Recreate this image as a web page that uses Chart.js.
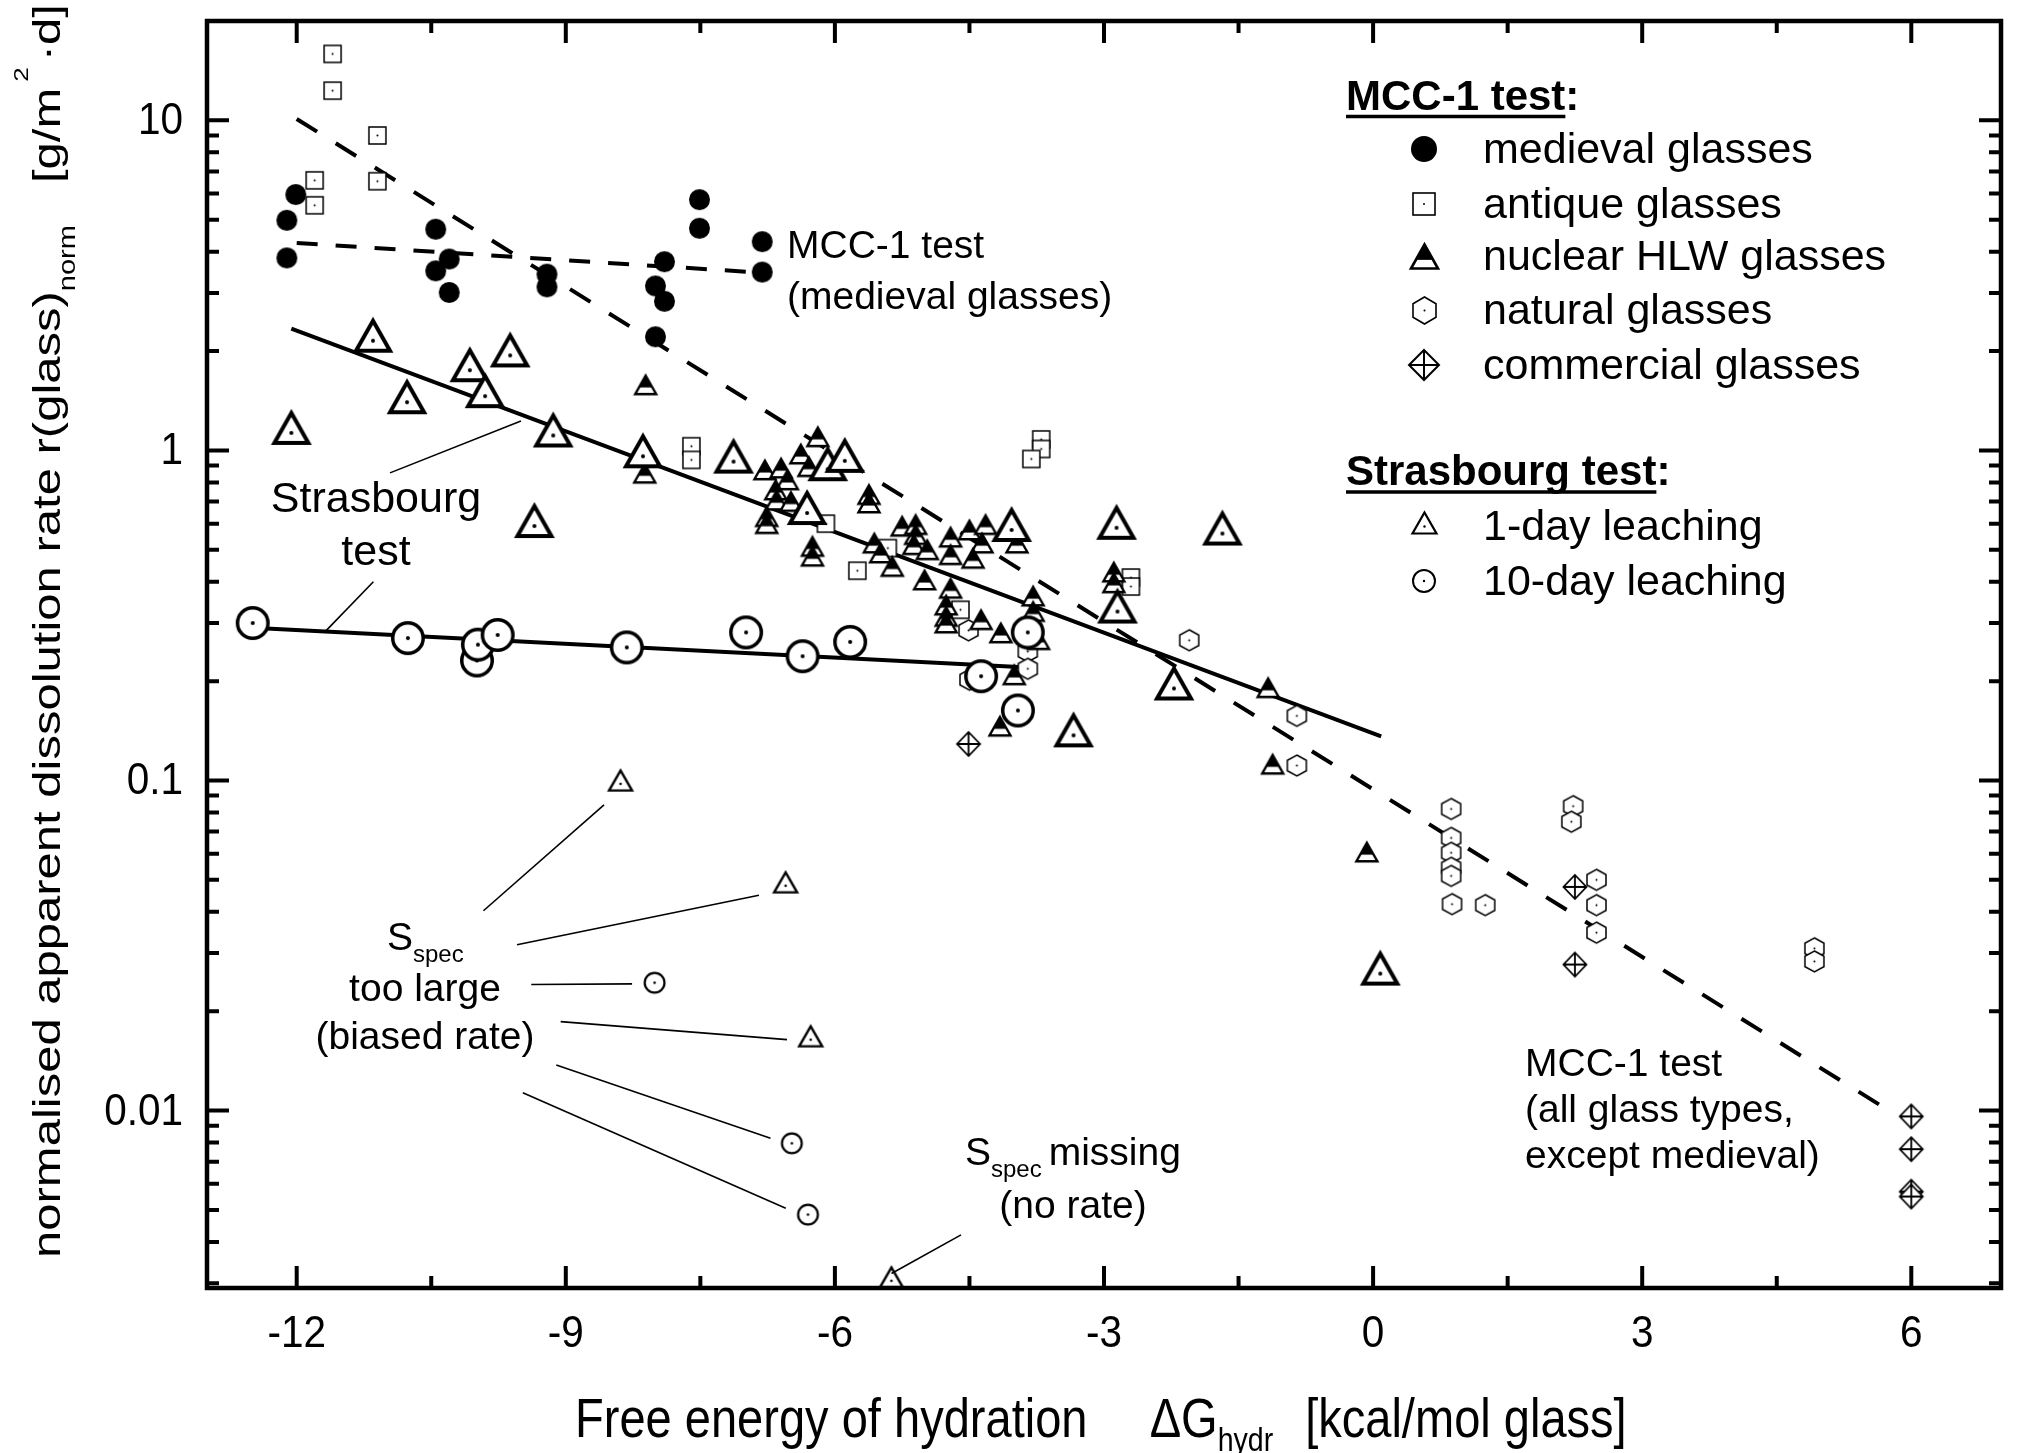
<!DOCTYPE html>
<html>
<head>
<meta charset="utf-8">
<title>Dissolution rate vs. free energy of hydration</title>
<script src="https://cdn.jsdelivr.net/npm/chart.js@4.4.1/dist/chart.umd.min.js"></script>
<style>
  html, body { margin: 0; padding: 0; background: #fff; }
  #wrap { width: 2017px; height: 1453px; }
</style>
</head>
<body>
<div id="wrap"><canvas id="chart" width="2017" height="1453"></canvas></div>
<script>
(function(){
  'use strict';

  // ---- axes ----
  var xMin = -13, xMax = 7;
  var yMin = 0.0029, yMax = 20;
  var xMajor = [-12, -9, -6, -3, 0, 3, 6];
  var xMajorLabels = ['-12', '-9', '-6', '-3', '0', '3', '6'];
  var xMinor = [-10.5, -7.5, -4.5, -1.5, 1.5, 4.5];
  var yMajor = [0.01, 0.1, 1, 10];
  var yMajorLabels = ['0.01', '0.1', '1', '10'];
  var yMinor = [0.003, 0.004, 0.005, 0.006, 0.007, 0.008, 0.009,
                0.02, 0.03, 0.04, 0.05, 0.06, 0.07, 0.08, 0.09,
                0.2, 0.3, 0.4, 0.5, 0.6, 0.7, 0.8, 0.9,
                2, 3, 4, 5, 6, 7, 8, 9];

  // ---- MCC-1 test ----
  var medievalX = [-12.01, -12.11, -12.11, -10.45, -10.30, -10.45, -10.30, -9.21, -9.21, -7.51, -7.51, -7.90, -8.00, -7.90, -8.00, -6.81, -6.81];
  var medievalY = [5.96, 4.98, 3.83, 4.68, 3.80, 3.50, 3.01, 3.42, 3.13, 5.75, 4.71, 3.73, 3.15, 2.83, 2.21, 4.29, 3.47];

  var antiqueX = [-11.60, -11.60, -11.10, -11.10, -11.80, -11.80, -7.60, -7.60, -6.10, -5.75, -5.41, -4.60, -3.70, -3.70, -3.81, -2.70, -2.70];
  var antiqueY = [15.9, 12.3, 9.0, 6.54, 6.58, 5.53, 1.03, 0.936, 0.60, 0.432, 0.506, 0.329, 1.08, 1.01, 0.942, 0.412, 0.387];

  var hlwX = [-8.11, -8.12, -6.78, -6.19, -6.38, -6.60, -6.53, -6.29, -6.66, -6.65, -6.49, -6.76, -6.76, -6.25, -6.25,
              -5.62, -5.62, -5.25, -5.10, -5.10, -5.12, -4.97, -5.56, -5.49, -5.36, -4.71, -4.71, -4.50, -4.32, -4.36,
              -4.46, -3.97, -5.00, -4.71, -4.76, -4.76, -4.76, -4.37, -4.15, -3.79, -3.79, -3.73, -4.00, -4.16, -2.89,
              -2.89, -1.17, -1.12, -0.07];
  var hlwY = [1.58, 0.853, 0.873, 1.10, 0.975, 0.884, 0.814, 0.893, 0.759, 0.707, 0.70, 0.63, 0.60, 0.512, 0.478,
              0.735, 0.693, 0.589, 0.596, 0.556, 0.518, 0.50, 0.524, 0.489, 0.445, 0.546, 0.483, 0.574, 0.596, 0.524,
              0.471, 0.524, 0.405, 0.382, 0.34, 0.314, 0.30, 0.307, 0.280, 0.362, 0.325, 0.267, 0.209, 0.146, 0.428,
              0.397, 0.191, 0.112, 0.0607];

  var naturalX = [-4.51, -3.85, -3.85, -4.50, -2.05, -0.85, -0.85, 0.87, 0.87, 0.87, 0.87, 0.87, 0.88, 1.25, 2.23, 2.21, 2.49, 2.49, 2.49, 4.92, 4.92];
  var naturalY = [0.285, 0.246, 0.218, 0.202, 0.266, 0.157, 0.111, 0.082, 0.067, 0.0604, 0.0544, 0.0514, 0.0422, 0.0419, 0.0836, 0.075, 0.050, 0.0419, 0.0346, 0.031, 0.0283];

  var commercialX = [-4.51, 2.25, 2.25, 6.0, 6.0, 6.0, 6.0];
  var commercialY = [0.129, 0.0476, 0.0277, 0.0096, 0.00764, 0.00568, 0.00549];

  // ---- Strasbourg test ----
  var oneDayX = [-12.06, -11.15, -10.77, -10.07, -9.90, -9.62, -9.35, -9.14, -8.14, -7.13, -6.31, -6.08, -5.89, -4.03, -3.34, -2.86, -2.85, -2.22, -1.68, 0.08];
  var oneDayY = [1.13, 2.15, 1.40, 1.75, 1.46, 1.94, 0.59, 1.11, 0.96, 0.925, 0.646, 0.877, 0.93, 0.574, 0.137, 0.583, 0.325, 0.190, 0.56, 0.026];
  var oneDayBiasedX = [-8.39, -6.55, -6.27, -5.37];
  var oneDayBiasedY = [0.0977, 0.048, 0.0164, 0.00305];

  var tenDayX = [-12.49, -10.76, -9.99, -9.98, -9.76, -8.32, -6.99, -6.36, -5.83, -4.37, -3.85, -3.96];
  var tenDayY = [0.300, 0.270, 0.231, 0.258, 0.276, 0.253, 0.281, 0.238, 0.263, 0.207, 0.281, 0.163];
  var tenDayBiasedX = [-8.01, -6.48, -6.30];
  var tenDayBiasedY = [0.0244, 0.00796, 0.00484];

  // ---- fitted trend lines (end points) ----
  var mccAllLineX = [-12.0, 5.75], mccAllLineY = [10.1, 0.0100];
  var mccMedLineX = [-12.0, -6.78], mccMedLineY = [4.25, 3.45];
  var oneDayLineX = [-12.06, 0.09], oneDayLineY = [2.34, 0.136];
  var tenDayLineX = [-12.5, -3.84], tenDayLineY = [0.290, 0.220];

  // ---- annotation leader lines, data coords [x1, y1, x2, y2] ----
  var leaders = [
    [-10.96, 0.855, -9.50, 1.228],
    [-11.145, 0.400, -11.68, 0.283],
    [-9.918, 0.0403, -8.574, 0.0844],
    [-9.544, 0.0318, -6.847, 0.0449],
    [-9.385, 0.0241, -8.261, 0.0242],
    [-9.057, 0.0186, -6.534, 0.0164],
    [-9.106, 0.01374, -6.718, 0.00824],
    [-9.479, 0.01132, -6.548, 0.00506],
    [-4.594, 0.0042, -5.369, 0.00321]
  ];

  var FONT = '"Liberation Sans", Arial, Helvetica, sans-serif';

  function pts(xs, ys){ return xs.map(function(x, i){ return {x: x, y: ys[i]}; }); }

  // ---- marker glyphs ----
  function canvasOf(w, h){ var c = document.createElement('canvas'); c.width = w; c.height = h; return c; }
  function dot(g, x, y, r){ g.beginPath(); g.arc(x, y, r, 0, Math.PI * 2); g.fillStyle = '#000'; g.fill(); }

  function markDisc(d){
    var s = Math.ceil(d + 4), c = canvasOf(s, s), g = c.getContext('2d');
    g.beginPath(); g.arc(s / 2, s / 2, d / 2, 0, Math.PI * 2); g.fillStyle = '#000'; g.fill();
    return c;
  }
  function markRing(d, lw, r){
    var s = Math.ceil(d + lw + 4), c = canvasOf(s, s), g = c.getContext('2d');
    g.beginPath(); g.arc(s / 2, s / 2, d / 2 - lw / 2, 0, Math.PI * 2);
    g.fillStyle = '#fff'; g.fill(); g.lineWidth = lw; g.strokeStyle = '#000'; g.stroke();
    dot(g, s / 2, s / 2, r);
    return c;
  }
  // open triangle, dot at centroid = image centre
  function markTri(w, h, lw, r){
    var s = Math.ceil(Math.max(w, 4 * h / 3) + 2 * lw + 8), c = canvasOf(s, s), g = c.getContext('2d');
    var cx = s / 2, cy = s / 2, top = cy - 2 * h / 3, bot = cy + h / 3;
    g.beginPath(); g.moveTo(cx, top); g.lineTo(cx + w / 2, bot); g.lineTo(cx - w / 2, bot); g.closePath();
    g.fillStyle = '#fff'; g.fill(); g.lineWidth = lw; g.strokeStyle = '#000'; g.lineJoin = 'miter'; g.stroke();
    dot(g, cx, cy, r);
    return c;
  }
  // half filled triangle (nuclear HLW glasses)
  function markHlw(w, h, lw){
    var s = Math.ceil(Math.max(w, h) + 2 * lw + 8), c = canvasOf(s, s), g = c.getContext('2d');
    var cx = s / 2, top = s / 2 - h / 2, bot = s / 2 + h / 2;
    g.beginPath(); g.moveTo(cx, top); g.lineTo(cx + w / 2, bot); g.lineTo(cx - w / 2, bot); g.closePath();
    g.fillStyle = '#fff'; g.fill();
    g.save(); g.clip(); g.fillStyle = '#000'; g.fillRect(0, 0, s, top + h * 0.64); g.restore();
    g.lineWidth = lw; g.strokeStyle = '#000'; g.lineJoin = 'miter'; g.stroke();
    return c;
  }
  function markSquare(a, lw){
    var s = Math.ceil(a + lw + 4), c = canvasOf(s, s), g = c.getContext('2d');
    var o = (s - a) / 2;
    g.fillStyle = '#fff'; g.fillRect(o, o, a, a);
    g.lineWidth = lw; g.strokeStyle = '#000'; g.strokeRect(o, o, a, a);
    dot(g, s / 2, s / 2, 1);
    return c;
  }
  function markHex(w, h, lw){
    var s = Math.ceil(Math.max(w, h) + lw + 4), c = canvasOf(s, s), g = c.getContext('2d');
    var cx = s / 2, cy = s / 2;
    g.beginPath();
    g.moveTo(cx, cy - h / 2); g.lineTo(cx + w / 2, cy - h / 4); g.lineTo(cx + w / 2, cy + h / 4);
    g.lineTo(cx, cy + h / 2); g.lineTo(cx - w / 2, cy + h / 4); g.lineTo(cx - w / 2, cy - h / 4); g.closePath();
    g.fillStyle = '#fff'; g.fill(); g.lineWidth = lw; g.strokeStyle = '#000'; g.stroke();
    dot(g, cx, cy, 1);
    return c;
  }
  function markCross(w, h, lw){
    var s = Math.ceil(Math.max(w, h) + lw + 4), c = canvasOf(s, s), g = c.getContext('2d');
    var cx = s / 2, cy = s / 2;
    g.beginPath();
    g.moveTo(cx, cy - h / 2); g.lineTo(cx + w / 2, cy); g.lineTo(cx, cy + h / 2); g.lineTo(cx - w / 2, cy); g.closePath();
    g.fillStyle = '#fff'; g.fill();
    g.moveTo(cx, cy - h / 2); g.lineTo(cx, cy + h / 2);
    g.moveTo(cx - w / 2, cy); g.lineTo(cx + w / 2, cy);
    g.lineWidth = lw; g.strokeStyle = '#000'; g.stroke();
    return c;
  }

  var M = {
    medieval: markDisc(21),
    antique: markSquare(17, 1.5),
    hlw: markHlw(21, 18.5, 2.4),
    natural: markHex(19, 21, 1.5),
    commercial: markCross(23, 24, 1.8),
    oneDay: markTri(34, 30, 4, 2),
    oneDaySmall: markTri(23, 20, 2.4, 1.3),
    tenDay: markRing(34, 3.5, 2),
    tenDaySmall: markRing(22, 2.2, 1.3)
  };
  var L = {
    medieval: markDisc(26),
    antique: markSquare(22, 1.6),
    hlw: markHlw(27, 24, 2.6),
    natural: markHex(23, 27, 1.6),
    commercial: markCross(30, 30, 2),
    oneDay: markTri(24, 21, 2.2, 1.2),
    tenDay: markRing(24, 2, 1.2)
  };

  function scatterSet(label, xs, ys, glyph, order){
    return { label: label, data: pts(xs, ys), pointStyle: glyph, pointRadius: 10, pointHoverRadius: 10,
             showLine: false, order: order, clip: false };
  }
  function lineSet(label, xs, ys, dash, order){
    return { label: label, data: pts(xs, ys), showLine: true, pointRadius: 0, borderColor: '#000',
             borderWidth: 4, borderDash: dash, borderCapStyle: 'butt', order: order, clip: false };
  }

  // ---- text helpers ----
  function drawRun(ctx, segs, x, y, o){
    o = o || {};
    ctx.save();
    ctx.translate(x, y);
    if (o.rot) ctx.rotate(o.rot);
    ctx.scale(o.sx || 1, o.sy || 1);
    ctx.fillStyle = '#000';
    ctx.textBaseline = 'alphabetic';
    ctx.textAlign = 'left';
    var total = 0;
    segs.forEach(function(s){
      if (s.t){ ctx.font = (s.bold ? 'bold ' : '') + s.size + 'px ' + FONT; total += ctx.measureText(s.t).width; }
      else total += s.gap;
    });
    var cx = o.align === 'center' ? -total / 2 : (o.align === 'right' ? -total : 0);
    segs.forEach(function(s){
      if (s.t){
        ctx.font = (s.bold ? 'bold ' : '') + s.size + 'px ' + FONT;
        ctx.fillText(s.t, cx, s.dy || 0);
        cx += ctx.measureText(s.t).width;
      } else cx += s.gap;
    });
    ctx.restore();
    return total * (o.sx || 1);
  }
  function text(ctx, str, x, y, size, align, extra){
    var o = extra || {};
    o.align = align;
    return drawRun(ctx, [{t: str, size: size, bold: o.bold}], x, y, o);
  }
  function place(ctx, glyph, x, y){ ctx.drawImage(glyph, Math.round(x - glyph.width / 2), Math.round(y - glyph.height / 2)); }

  var decor = {
    id: 'decor',
    afterDatasetsDraw: function(chart){
      var ctx = chart.ctx, a = chart.chartArea, xs = chart.scales.x, ys = chart.scales.y;
      ctx.save();
      // leader lines
      ctx.strokeStyle = '#000'; ctx.lineWidth = 1.6;
      leaders.forEach(function(s){
        ctx.beginPath();
        ctx.moveTo(xs.getPixelForValue(s[0]), ys.getPixelForValue(s[1]));
        ctx.lineTo(xs.getPixelForValue(s[2]), ys.getPixelForValue(s[3]));
        ctx.stroke();
      });

      // frame and ticks
      ctx.lineWidth = 4.5; ctx.lineCap = 'butt';
      ctx.strokeRect(a.left, a.top, a.right - a.left, a.bottom - a.top);
      ctx.lineWidth = 4;
      function tickX(v, len){
        var p = xs.getPixelForValue(v);
        ctx.beginPath();
        ctx.moveTo(p, a.bottom); ctx.lineTo(p, a.bottom - len);
        ctx.moveTo(p, a.top); ctx.lineTo(p, a.top + len);
        ctx.stroke();
      }
      function tickY(v, len){
        var p = ys.getPixelForValue(v);
        ctx.beginPath();
        ctx.moveTo(a.left, p); ctx.lineTo(a.left + len, p);
        ctx.moveTo(a.right, p); ctx.lineTo(a.right - len, p);
        ctx.stroke();
      }
      xMajor.forEach(function(v){ tickX(v, 22); });
      xMinor.forEach(function(v){ tickX(v, 12); });
      yMajor.forEach(function(v){ tickY(v, 22); });
      yMinor.forEach(function(v){ tickY(v, 12); });

      // tick labels
      xMajor.forEach(function(v, i){
        text(ctx, xMajorLabels[i], xs.getPixelForValue(v), a.bottom + 59, 45, 'center', {sx: 0.9});
      });
      yMajor.forEach(function(v, i){
        text(ctx, yMajorLabels[i], a.left - 24, ys.getPixelForValue(v) + 14, 45, 'right', {sx: 0.9});
      });

      // axis titles
      drawRun(ctx, [
        {t: 'Free energy of hydration', size: 56},
        {gap: 74},
        {t: '\u0394G', size: 56},
        {t: 'hydr', size: 34, dy: 14},
        {gap: 38},
        {t: '[kcal/mol glass]', size: 56}
      ], a.left + 368, 1437, {sx: 0.84});

      drawRun(ctx, [
        {t: 'normalised apparent dissolution rate r(glass)', size: 49},
        {t: 'norm', size: 29, dy: 18},
        {gap: 42},
        {t: '[g/m', size: 49},
        {gap: 6},
        {t: '2', size: 26, dy: -40},
        {gap: 6},
        {t: '\u00b7d]', size: 49}
      ], 60, 1258, {rot: -Math.PI / 2, sy: 0.81});

      // in-plot annotations
      text(ctx, 'MCC-1 test', 787, 258, 39, 'left');
      text(ctx, '(medieval glasses)', 787, 309, 39, 'left');
      text(ctx, 'Strasbourg', 376, 512, 43, 'center');
      text(ctx, 'test', 376, 565, 43, 'center');
      drawRun(ctx, [{t: 'S', size: 39}, {t: 'spec', size: 24, dy: 12}], 387, 950);
      text(ctx, 'too large', 425, 1001, 39, 'center');
      text(ctx, '(biased rate)', 425, 1049, 39, 'center');
      drawRun(ctx, [{t: 'S', size: 39}, {t: 'spec', size: 24, dy: 12}, {gap: 7}, {t: 'missing', size: 39}], 965, 1165);
      text(ctx, '(no rate)', 1073, 1218, 39, 'center');
      text(ctx, 'MCC-1 test', 1525, 1076, 39, 'left');
      text(ctx, '(all glass types,', 1525, 1122, 39, 'left');
      text(ctx, 'except medieval)', 1525, 1168, 39, 'left');

      // legend
      var hx = 1346, mx = 1424, tx = 1483;
      var w1 = text(ctx, 'MCC-1 test', hx, 110, 42, 'left', {bold: true});
      text(ctx, ':', hx + w1, 110, 42, 'left', {bold: true});
      ctx.lineWidth = 3.5;
      ctx.beginPath(); ctx.moveTo(hx, 116.5); ctx.lineTo(hx + w1, 116.5); ctx.stroke();
      var rows = [
        [L.medieval, 'medieval glasses', 149],
        [L.antique, 'antique glasses', 204],
        [L.hlw, 'nuclear HLW glasses', 256],
        [L.natural, 'natural glasses', 310],
        [L.commercial, 'commercial glasses', 365]
      ];
      rows.forEach(function(r){ place(ctx, r[0], mx, r[2]); text(ctx, r[1], tx, r[2] + 14, 43, 'left'); });
      var w2 = text(ctx, 'Strasbourg test', hx, 485, 42, 'left', {bold: true});
      text(ctx, ':', hx + w2, 485, 42, 'left', {bold: true});
      ctx.beginPath(); ctx.moveTo(hx, 492); ctx.lineTo(hx + w2, 492); ctx.stroke();
      place(ctx, L.oneDay, mx, 526); text(ctx, '1-day leaching', tx, 540, 43, 'left');
      place(ctx, L.tenDay, mx, 581); text(ctx, '10-day leaching', tx, 595, 43, 'left');
      ctx.restore();
    }
  };

  new Chart(document.getElementById('chart').getContext('2d'), {
    type: 'scatter',
    data: {
      datasets: [
        scatterSet('10-day leaching', tenDayX, tenDayY, M.tenDay, 1),
        scatterSet('1-day leaching', oneDayX, oneDayY, M.oneDay, 2),
        scatterSet('10-day leaching (biased)', tenDayBiasedX, tenDayBiasedY, M.tenDaySmall, 3),
        scatterSet('1-day leaching (biased)', oneDayBiasedX, oneDayBiasedY, M.oneDaySmall, 3),
        scatterSet('medieval glasses', medievalX, medievalY, M.medieval, 4),
        scatterSet('nuclear HLW glasses', hlwX, hlwY, M.hlw, 5),
        scatterSet('commercial glasses', commercialX, commercialY, M.commercial, 6),
        scatterSet('antique glasses', antiqueX, antiqueY, M.antique, 7),
        scatterSet('natural glasses', naturalX, naturalY, M.natural, 8),
        lineSet('MCC-1 all glass types', mccAllLineX, mccAllLineY, [24, 22], 9),
        lineSet('MCC-1 medieval', mccMedLineX, mccMedLineY, [21, 18], 10),
        lineSet('Strasbourg 1-day', oneDayLineX, oneDayLineY, [], 11),
        lineSet('Strasbourg 10-day', tenDayLineX, tenDayLineY, [], 12)
      ]
    },
    options: {
      responsive: false,
      animation: false,
      events: [],
      devicePixelRatio: 1,
      layout: { padding: { left: 207, top: 21, right: 16, bottom: 165 } },
      plugins: { legend: { display: false }, tooltip: { enabled: false } },
      scales: {
        x: { type: 'linear', min: xMin, max: xMax, display: false },
        y: { type: 'logarithmic', min: yMin, max: yMax, display: false }
      }
    },
    plugins: [decor]
  });
})();
</script>
</body>
</html>
